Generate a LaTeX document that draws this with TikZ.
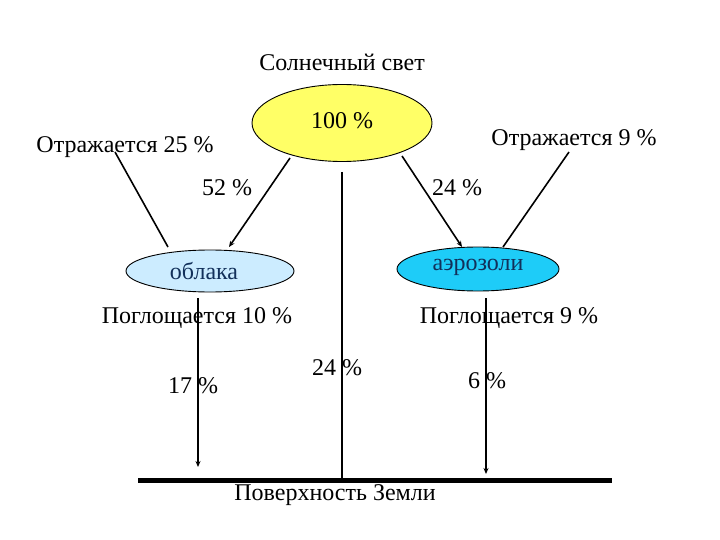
\documentclass[tikz,border=0pt]{standalone}
\usepackage{fontspec}
\setmainfont{Liberation Serif}
\usetikzlibrary{shapes.geometric,arrows.meta}
\definecolor{sunyellow}{HTML}{FFFF66}
\definecolor{cloudblue}{HTML}{CCECFF}
\definecolor{aerblue}{HTML}{1ECCF8}
\definecolor{navytext}{HTML}{12305A}
\tikzset{
  lbl/.style={font=\fontsize{24}{27}\selectfont, inner sep=0pt},
  oval/.style={ellipse, draw=black, line width=0.9pt, inner sep=0pt},
  ray/.style={line width=1.6pt},
  arr/.style={line width=1.6pt, -{Stealth[length=6pt,width=5pt]}},
}
\begin{document}
\begin{tikzpicture}[x=1pt,y=-1pt]
\useasboundingbox (0,0) rectangle (720,540);
\node[lbl] (sun) at (342,62) {Солнечный свет};
\node[oval, fill=sunyellow, minimum width=180pt, minimum height=77pt] (src) at (342,123) {};
\node[lbl] at (342,121) {100 \%};
\node[lbl] (refl) at (125,147) {Отражается 25 \%};
\node[lbl] (refr) at (574,140) {Отражается 9 \%};
\node[lbl] (p52) at (227,188) {52 \%};
\node[lbl] (p24a) at (457,188) {24 \%};
\node[oval, fill=cloudblue, minimum width=168pt, minimum height=42pt] (cloud) at (210,271) {};
\node[lbl, text=navytext] at (204,271) {облака};
\node[oval, fill=aerblue, minimum width=162pt, minimum height=44pt] (aer) at (478,269) {};
\node[lbl, text=navytext] at (478,267) {аэрозоли};
\node[lbl] (absl) at (197,318) {Поглощается 10 \%};
\node[lbl] (absr) at (509,318) {Поглощается 9 \%};
\node[lbl] (p17) at (193,386) {17 \%};
\node[lbl] (p24b) at (337,368) {24 \%};
\node[lbl] (p6) at (487,381) {6 \%};
\node[lbl] (earth) at (335,495) {Поверхность Земли};
\coordinate (gl) at (138,480);
\coordinate (gr) at (612,480);
\draw[line width=5pt] (gl) -- (gr);
% reflection lines
\coordinate (rl1) at (115,152); \coordinate (rl2) at (168,247);
\draw[ray] (rl1) -- (rl2);
\coordinate (rr1) at (569,152); \coordinate (rr2) at (503,247);
\draw[ray] (rr1) -- (rr2);
% arrows from sun
\coordinate (a1s) at (290,158); \coordinate (a1e) at (229,247);
\draw[arr] (a1s) -- (a1e);
\coordinate (a2s) at (402,156); \coordinate (a2e) at (462,247);
\draw[arr] (a2s) -- (a2e);
% vertical lines
\coordinate (m1) at (342,172); \coordinate (m2) at (342,478);
\draw[ray] (m1) -- (m2);
\coordinate (l1) at (198,298); \coordinate (l2) at (198,467);
\draw[arr] (l1) -- (l2);
\coordinate (r1) at (486,298); \coordinate (r2) at (486,474);
\draw[arr] (r1) -- (r2);
\end{tikzpicture}
\end{document}
